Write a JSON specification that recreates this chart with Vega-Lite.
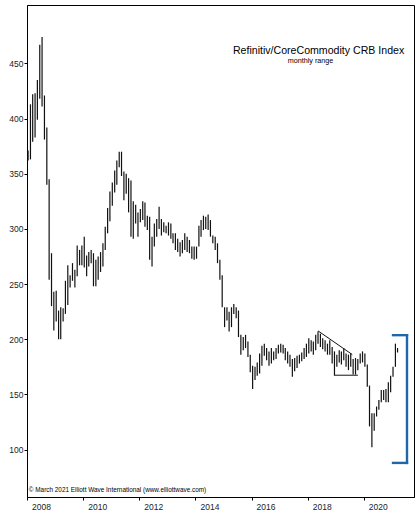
{
"$schema": "https://vega.github.io/schema/vega-lite/v6.json",
"width": 387, "height": 492,
"autosize": {"type": "none"},
"padding": {"left": 27, "top": 5, "right": 6, "bottom": 15},
"background": "white",
"config": {"view": {"stroke": "#000", "strokeWidth": 1}, "font": "Liberation Sans"},
"layer": [
{"data": {"values": [
{"d":"2008-01-15","lo":362,"hi":371},{"d":"2008-02-15","lo":363,"hi":413},{"d":"2008-03-15","lo":379,"hi":422},{"d":"2008-04-15","lo":383,"hi":423},{"d":"2008-05-15","lo":399,"hi":435},{"d":"2008-06-15","lo":418,"hi":467},{"d":"2008-07-15","lo":411,"hi":474},{"d":"2008-08-15","lo":381,"hi":421},{"d":"2008-09-15","lo":340,"hi":392},{"d":"2008-10-15","lo":254,"hi":345},{"d":"2008-11-15","lo":230,"hi":278},{"d":"2008-12-15","lo":208,"hi":243},
{"d":"2009-01-15","lo":216,"hi":244},{"d":"2009-02-15","lo":200,"hi":226},{"d":"2009-03-15","lo":200,"hi":229},{"d":"2009-04-15","lo":216,"hi":228},{"d":"2009-05-15","lo":223,"hi":253},{"d":"2009-06-15","lo":231,"hi":267},{"d":"2009-07-15","lo":247,"hi":258},{"d":"2009-08-15","lo":253,"hi":269},{"d":"2009-09-15","lo":247,"hi":263},{"d":"2009-10-15","lo":257,"hi":285},{"d":"2009-11-15","lo":267,"hi":281},{"d":"2009-12-15","lo":267,"hi":285},
{"d":"2010-01-15","lo":265,"hi":293},{"d":"2010-02-15","lo":257,"hi":276},{"d":"2010-03-15","lo":266,"hi":279},{"d":"2010-04-15","lo":269,"hi":281},{"d":"2010-05-15","lo":248,"hi":278},{"d":"2010-06-15","lo":248,"hi":272},{"d":"2010-07-15","lo":254,"hi":275},{"d":"2010-08-15","lo":261,"hi":279},{"d":"2010-09-15","lo":266,"hi":287},{"d":"2010-10-15","lo":281,"hi":302},{"d":"2010-11-15","lo":296,"hi":319},{"d":"2010-12-15","lo":307,"hi":334},
{"d":"2011-01-15","lo":321,"hi":342},{"d":"2011-02-15","lo":333,"hi":353},{"d":"2011-03-15","lo":340,"hi":362},{"d":"2011-04-15","lo":356,"hi":370},{"d":"2011-05-15","lo":348,"hi":370},{"d":"2011-06-15","lo":326,"hi":352},{"d":"2011-07-15","lo":332,"hi":350},{"d":"2011-08-15","lo":315,"hi":346},{"d":"2011-09-15","lo":293,"hi":344},{"d":"2011-10-15","lo":291,"hi":325},{"d":"2011-11-15","lo":305,"hi":322},{"d":"2011-12-15","lo":293,"hi":315},
{"d":"2012-01-15","lo":306,"hi":318},{"d":"2012-02-15","lo":308,"hi":325},{"d":"2012-03-15","lo":302,"hi":324},{"d":"2012-04-15","lo":299,"hi":312},{"d":"2012-05-15","lo":272,"hi":311},{"d":"2012-06-15","lo":266,"hi":293},{"d":"2012-07-15","lo":284,"hi":305},{"d":"2012-08-15","lo":293,"hi":309},{"d":"2012-09-15","lo":300,"hi":320},{"d":"2012-10-15","lo":294,"hi":309},{"d":"2012-11-15","lo":297,"hi":306},{"d":"2012-12-15","lo":296,"hi":303},
{"d":"2013-01-15","lo":294,"hi":306},{"d":"2013-02-15","lo":291,"hi":305},{"d":"2013-03-15","lo":287,"hi":296},{"d":"2013-04-15","lo":281,"hi":296},{"d":"2013-05-15","lo":279,"hi":291},{"d":"2013-06-15","lo":275,"hi":288},{"d":"2013-07-15","lo":278,"hi":290},{"d":"2013-08-15","lo":281,"hi":296},{"d":"2013-09-15","lo":279,"hi":293},{"d":"2013-10-15","lo":278,"hi":290},{"d":"2013-11-15","lo":273,"hi":284},{"d":"2013-12-15","lo":272,"hi":284},
{"d":"2014-01-15","lo":273,"hi":284},{"d":"2014-02-15","lo":284,"hi":303},{"d":"2014-03-15","lo":293,"hi":308},{"d":"2014-04-15","lo":299,"hi":312},{"d":"2014-05-15","lo":300,"hi":311},{"d":"2014-06-15","lo":299,"hi":313},{"d":"2014-07-15","lo":293,"hi":308},{"d":"2014-08-15","lo":287,"hi":294},{"d":"2014-09-15","lo":281,"hi":293},{"d":"2014-10-15","lo":269,"hi":287},{"d":"2014-11-15","lo":254,"hi":272},{"d":"2014-12-15","lo":229,"hi":258},
{"d":"2015-01-15","lo":211,"hi":229},{"d":"2015-02-15","lo":217,"hi":229},{"d":"2015-03-15","lo":207,"hi":225},{"d":"2015-04-15","lo":211,"hi":229},{"d":"2015-05-15","lo":223,"hi":232},{"d":"2015-06-15","lo":219,"hi":229},{"d":"2015-07-15","lo":202,"hi":226},{"d":"2015-08-15","lo":186,"hi":204},{"d":"2015-09-15","lo":190,"hi":202},{"d":"2015-10-15","lo":192,"hi":204},{"d":"2015-11-15","lo":184,"hi":198},{"d":"2015-12-15","lo":170,"hi":186},
{"d":"2016-01-15","lo":155,"hi":176},{"d":"2016-02-15","lo":163,"hi":175},{"d":"2016-03-15","lo":167,"hi":179},{"d":"2016-04-15","lo":169,"hi":187},{"d":"2016-05-15","lo":176,"hi":194},{"d":"2016-06-15","lo":185,"hi":196},{"d":"2016-07-15","lo":181,"hi":192},{"d":"2016-08-15","lo":176,"hi":189},{"d":"2016-09-15","lo":178,"hi":192},{"d":"2016-10-15","lo":181,"hi":189},{"d":"2016-11-15","lo":182,"hi":192},{"d":"2016-12-15","lo":187,"hi":195},
{"d":"2017-01-15","lo":188,"hi":196},{"d":"2017-02-15","lo":187,"hi":195},{"d":"2017-03-15","lo":181,"hi":192},{"d":"2017-04-15","lo":178,"hi":189},{"d":"2017-05-15","lo":175,"hi":186},{"d":"2017-06-15","lo":166,"hi":182},{"d":"2017-07-15","lo":171,"hi":183},{"d":"2017-08-15","lo":174,"hi":185},{"d":"2017-09-15","lo":178,"hi":186},{"d":"2017-10-15","lo":180,"hi":188},{"d":"2017-11-15","lo":182,"hi":192},{"d":"2017-12-15","lo":184,"hi":196},
{"d":"2018-01-15","lo":187,"hi":201},{"d":"2018-02-15","lo":189,"hi":199},{"d":"2018-03-15","lo":186,"hi":198},{"d":"2018-04-15","lo":190,"hi":204},{"d":"2018-05-15","lo":196,"hi":207},{"d":"2018-06-15","lo":193,"hi":205},{"d":"2018-07-15","lo":191,"hi":201},{"d":"2018-08-15","lo":189,"hi":199},{"d":"2018-09-15","lo":186,"hi":196},{"d":"2018-10-15","lo":186,"hi":199},{"d":"2018-11-15","lo":178,"hi":193},{"d":"2018-12-15","lo":167,"hi":189},
{"d":"2019-01-15","lo":175,"hi":186},{"d":"2019-02-15","lo":179,"hi":190},{"d":"2019-03-15","lo":177,"hi":189},{"d":"2019-04-15","lo":181,"hi":192},{"d":"2019-05-15","lo":175,"hi":187},{"d":"2019-06-15","lo":172,"hi":186},{"d":"2019-07-15","lo":175,"hi":187},{"d":"2019-08-15","lo":168,"hi":182},{"d":"2019-09-15","lo":168,"hi":183},{"d":"2019-10-15","lo":172,"hi":182},{"d":"2019-11-15","lo":178,"hi":187},{"d":"2019-12-15","lo":179,"hi":189},
{"d":"2020-01-15","lo":175,"hi":187},{"d":"2020-02-15","lo":157,"hi":177},{"d":"2020-03-15","lo":121,"hi":158},{"d":"2020-04-15","lo":102,"hi":133},{"d":"2020-05-15","lo":117,"hi":133},{"d":"2020-06-15","lo":130,"hi":139},{"d":"2020-07-15","lo":136,"hi":145},{"d":"2020-08-15","lo":143,"hi":154},{"d":"2020-09-15","lo":145,"hi":154},{"d":"2020-10-15","lo":143,"hi":155},{"d":"2020-11-15","lo":143,"hi":161},{"d":"2020-12-15","lo":152,"hi":167},
{"d":"2021-01-15","lo":166,"hi":175},{"d":"2021-02-15","lo":175,"hi":196},{"d":"2021-03-15","lo":188,"hi":192}
]},
"mark": {"type": "rule", "color": "#111", "strokeWidth": 1.2},
"encoding": {
"x": {"field": "d", "type": "temporal",
 "scale": {"type": "utc", "domain": [{"year": 2008, "month": 1, "date": 1, "utc": true}, {"year": 2021, "month": 10, "date": 15, "utc": true}]},
 "axis": {"title": null, "grid": false,
  "values": [{"year":2008,"utc":true},{"year":2009,"utc":true},{"year":2010,"utc":true},{"year":2011,"utc":true},{"year":2012,"utc":true},{"year":2013,"utc":true},{"year":2014,"utc":true},{"year":2015,"utc":true},{"year":2016,"utc":true},{"year":2017,"utc":true},{"year":2018,"utc":true},{"year":2019,"utc":true},{"year":2020,"utc":true},{"year":2021,"utc":true}],
  "labelExpr": "utcyear(datum.value) % 2 == 0 ? utcFormat(datum.value, '%Y') : ''",
  "labelOffset": 14, "labelFlush": false, "labelOverlap": false, "labelBound": false,
  "tickSize": 3, "labelPadding": 2, "labelFontSize": 8.5, "labelColor": "#222",
  "domainColor": "#000", "tickColor": "#000"}},
"y": {"field": "lo", "type": "quantitative",
 "scale": {"domain": [57, 503], "nice": false, "zero": false},
 "axis": {"title": null, "grid": false, "values": [100,150,200,250,300,350,400,450],
  "tickSize": 3, "labelPadding": 1, "labelFontSize": 8.5, "labelColor": "#222",
  "domainColor": "#000", "tickColor": "#000"}},
"y2": {"field": "hi"}
}},
{"data": {"values": [
{"d1":"2018-05-15","v1":207.6,"d2":"2019-08-04","v2":186.1},
{"d1":"2018-12-17","v1":167.4,"d2":"2019-10-16","v2":167.4}
]},
"mark": {"type": "rule", "color": "#111", "strokeWidth": 1},
"encoding": {"x": {"field": "d1", "type": "temporal"}, "y": {"field": "v1", "type": "quantitative"}, "x2": {"field": "d2"}, "y2": {"field": "v2"}}},
{"data": {"values": [
{"d1":"2021-07-16","v1":203.7,"d2":"2021-07-16","v2":87.9},
{"d1":"2021-01-15","v1":203.7,"d2":"2021-07-16","v2":203.7},
{"d1":"2021-01-15","v1":87.9,"d2":"2021-07-16","v2":87.9}
]},
"mark": {"type": "rule", "color": "#1f67ab", "strokeWidth": 2.4, "strokeCap": "square"},
"encoding": {"x": {"field": "d1", "type": "temporal"}, "y": {"field": "v1", "type": "quantitative"}, "x2": {"field": "d2"}, "y2": {"field": "v2"}}},
{"data": {"values": [{"d":"2018-05-22","v":458.8,"label":"Refinitiv/CoreCommodity CRB Index"}]},
"mark": {"type": "text", "fontSize": 10.6, "align": "center", "baseline": "alphabetic", "color": "#000"},
"encoding": {"x": {"field": "d", "type": "temporal"}, "y": {"field": "v", "type": "quantitative"}, "text": {"field": "label"}}},
{"data": {"values": [{"d":"2018-02-06","v":450.7,"label":"monthly range"}]},
"mark": {"type": "text", "fontSize": 7.2, "align": "center", "baseline": "alphabetic", "color": "#000"},
"encoding": {"x": {"field": "d", "type": "temporal"}, "y": {"field": "v", "type": "quantitative"}, "text": {"field": "label"}}},
{"data": {"values": [{"d":"2008-01-24","v":61.8,"label":"© March 2021 Elliott Wave International (www.elliottwave.com)"}]},
"mark": {"type": "text", "fontSize": 6.4, "align": "left", "baseline": "alphabetic", "color": "#000"},
"encoding": {"x": {"field": "d", "type": "temporal"}, "y": {"field": "v", "type": "quantitative"}, "text": {"field": "label"}}}
]
}
